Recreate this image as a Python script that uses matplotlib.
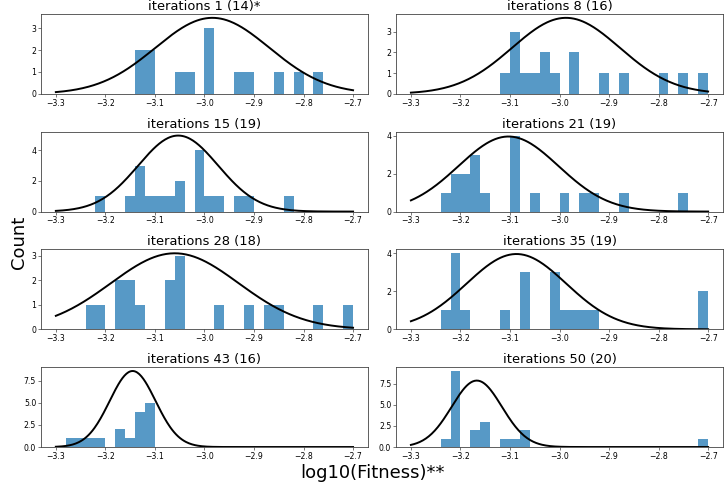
import numpy as np
import matplotlib
matplotlib.use("Agg")
import matplotlib.pyplot as plt
from matplotlib.ticker import MaxNLocator

# --- Data ---
BIN_EDGES = np.round(np.linspace(-3.3, -2.7, 31), 2)   # bin width 0.02
ITERATIONS = [1, 8, 15, 21, 28, 35, 43, 50]
TITLE_MARK = ["*", "", "", "", "", "", "", ""]

COUNTS_1 = [0, 0, 0, 0, 0, 0, 0, 0, 2, 2, 0, 0, 1, 1, 0, 3, 0, 0, 1, 1, 0, 0, 1, 0, 1, 0, 1, 0, 0, 0]
COUNTS_8 = [0, 0, 0, 0, 0, 0, 0, 0, 0, 1, 3, 1, 1, 2, 1, 0, 2, 0, 0, 1, 0, 1, 0, 0, 0, 1, 0, 1, 0, 1]
COUNTS_15 = [0, 0, 0, 0, 1, 0, 0, 1, 3, 1, 1, 1, 2, 0, 4, 1, 1, 0, 1, 1, 0, 0, 0, 1, 0, 0, 0, 0, 0, 0]
COUNTS_21 = [0, 0, 0, 1, 2, 2, 3, 1, 0, 0, 4, 0, 1, 0, 0, 1, 0, 1, 1, 0, 0, 1, 0, 0, 0, 0, 0, 1, 0, 0]
COUNTS_28 = [0, 0, 0, 1, 1, 0, 2, 2, 1, 0, 0, 2, 3, 0, 0, 0, 1, 0, 0, 1, 0, 1, 1, 0, 0, 0, 1, 0, 0, 1]
COUNTS_35 = [0, 0, 0, 1, 4, 1, 0, 0, 0, 1, 0, 3, 0, 0, 3, 1, 1, 1, 1, 0, 0, 0, 0, 0, 0, 0, 0, 0, 0, 2]
COUNTS_43 = [0, 1, 1, 1, 1, 0, 2, 1, 4, 5, 0, 0, 0, 0, 0, 0, 0, 0, 0, 0, 0, 0, 0, 0, 0, 0, 0, 0, 0, 0]
COUNTS_50 = [0, 0, 0, 1, 9, 0, 2, 3, 0, 1, 1, 2, 0, 0, 0, 0, 0, 0, 0, 0, 0, 0, 0, 0, 0, 0, 0, 0, 0, 1]
ALL_COUNTS = [COUNTS_1, COUNTS_8, COUNTS_15, COUNTS_21, COUNTS_28, COUNTS_35, COUNTS_43, COUNTS_50]

# normal fit drawn over each histogram (density curve)
FIT_MU = [-2.984, -2.987, -3.053, -3.103, -3.060, -3.087, -3.145, -3.167]
FIT_SIGMA = [0.115, 0.1087, 0.0806, 0.101, 0.129, 0.1007, 0.0463, 0.0507]

XTICKS = [-3.3, -3.2, -3.1, -3.0, -2.9, -2.8, -2.7]

BAR_COLOR = "#1f77b4"


def normal_pdf(x, mu, sigma):
    return np.exp(-0.5 * ((x - mu) / sigma) ** 2) / (sigma * np.sqrt(2 * np.pi))


fig, axes = plt.subplots(
    4, 2, figsize=(7.24, 4.84), dpi=100,
    gridspec_kw=dict(left=0.0566, right=0.9986, bottom=0.0764, top=0.971,
                     hspace=0.475, wspace=0.086),
)

centers = BIN_EDGES[:-1] + 0.01
xs = np.linspace(-3.3, -2.7, 300)

for ax, it, mark, counts, mu, sigma in zip(axes.flat, ITERATIONS, TITLE_MARK,
                                          ALL_COUNTS, FIT_MU, FIT_SIGMA):
    ax.hist(centers, bins=BIN_EDGES, weights=counts, color=BAR_COLOR, alpha=0.75)
    ax.plot(xs, normal_pdf(xs, mu, sigma), color="black", linewidth=1.4)
    ax.set_title(f"iterations {it} ({sum(counts)}){mark}", fontsize=9.4, pad=3)
    ax.set_xticks(XTICKS)
    ax.yaxis.set_major_locator(MaxNLocator(nbins=4, steps=[1, 2, 2.5, 5, 10]))
    ax.tick_params(labelsize=5.6, length=2, width=0.5, pad=1.5, color="#444444")
    for sp in ax.spines.values():
        sp.set_linewidth(0.6)
        sp.set_color("#444444")

fig.supylabel("Count", x=0.014, fontsize=13)
fig.supxlabel("log10(Fitness)**", x=0.515, y=0.023, va="center", fontsize=13)

fig.savefig("out.png", dpi=100)
